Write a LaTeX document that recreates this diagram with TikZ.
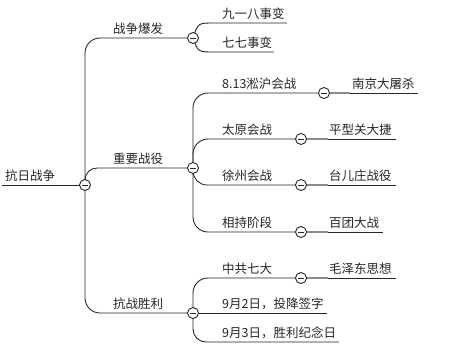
\documentclass[tikz,border=0pt]{standalone}
\usepackage{fontspec}
\newfontfamily\cjk{Noto Sans CJK SC}
\begin{document}
\begin{tikzpicture}[x=1pt,y=-1pt,
  lbl/.style={anchor=base west,inner sep=0pt,font=\cjk\fontsize{12.5}{14}\selectfont,text=black!85},
  link/.style={line width=0.9pt,draw=black!85},
  glink/.style={line width=1.1pt,draw=black!45},
  tog/.style={circle,draw=black!85,fill=white,line width=0.9pt,minimum size=11pt,inner sep=0pt,
    path picture={\draw[line width=0.9pt,black!85] ([xshift=-2.6pt]path picture bounding box.center) -- ([xshift=2.6pt]path picture bounding box.center);}}]
\useasboundingbox (0,0) rectangle (465,349);

% coordinates
\coordinate (r0) at (2,185);
\coordinate (p0) at (85,185);
\coordinate (p1) at (193,38);
\coordinate (p2) at (193,168);
\coordinate (p3) at (193,313);
\coordinate (p21) at (324,93);
\coordinate (p22) at (301,139);
\coordinate (p23) at (301,185);
\coordinate (p24) at (301,232);
\coordinate (p31) at (301,278);

% text nodes
\node[lbl] (t0) at (5,180) {抗日战争};
\node[lbl] (t1) at (113,33) {战争爆发};
\node[lbl] (t2) at (113,163) {重要战役};
\node[lbl] (t3) at (113,308) {抗战胜利};
\node[lbl] (t11) at (222,18) {九一八事变};
\node[lbl] (t12) at (222,47) {七七事变};
\node[lbl] (t21) at (222,88) {8.13淞沪会战};
\node[lbl] (t22) at (222,134) {太原会战};
\node[lbl] (t23) at (222,180) {徐州会战};
\node[lbl] (t24) at (222,227) {相持阶段};
\node[lbl] (t31) at (222,273) {中共七大};
\node[lbl] (t32) at (222,308) {9月2日，投降签字};
\node[lbl] (t33) at (222,337) {9月3日，胜利纪念日};
\node[lbl] (t211) at (352,88) {南京大屠杀};
\node[lbl] (t221) at (329,134) {平型关大捷};
\node[lbl] (t231) at (329,180) {台儿庄战役};
\node[lbl] (t241) at (329,227) {百团大战};
\node[lbl] (t311) at (329,273) {毛泽东思想};

% end coordinates of underlines
\coordinate (e11) at (287,23);
\coordinate (e12) at (274,52);
\coordinate (e32) at (327,313);
\coordinate (e33) at (339,342);
\coordinate (s211) at (350,93);
\coordinate (e211) at (418,93);
\coordinate (s221) at (328,139);
\coordinate (e221) at (396,139);
\coordinate (s231) at (328,185);
\coordinate (e231) at (396,185);
\coordinate (s241) at (328,232);
\coordinate (e241) at (383,232);
\coordinate (s311) at (328,278);
\coordinate (e311) at (396,278);

% root
\draw[link] (r0) -- (p0);
% level 1
\draw[link,rounded corners=15pt] (p0) -- (85,38) -- (p1);
\draw[link,rounded corners=15pt] (p0) -- (85,313) -- (p3);
\draw[link,rounded corners=12pt] (p0) -- (85,168) -- (p2);
% level 2 from p1
\draw[link] (p1) .. controls (198,23) .. (214,23) -- (e11);
\draw[link] (p1) .. controls (198,52) .. (214,52) -- (e12);
% from p2
\draw[link,rounded corners=15pt] (p2) -- (193,93) -- (p21);
\draw[link,rounded corners=15pt] (p2) -- (193,139) -- (p22);
\draw[link,rounded corners=14pt] (p2) -- (193,185) -- (p23);
\draw[link,rounded corners=15pt] (p2) -- (193,232) -- (p24);
% from p3
\draw[link,rounded corners=15pt] (p3) -- (193,278) -- (p31);
\draw[link] (p3) -- (e32);
\draw[link,rounded corners=13pt] (p3) -- (193,342) -- (e33);
% level 3
\draw[glink] (p21) -- (s211);
\draw[link] (s211) -- (e211);
\draw[glink] (p22) -- (s221);
\draw[link] (s221) -- (e221);
\draw[glink] (p23) -- (s231);
\draw[link] (s231) -- (e231);
\draw[glink] (p24) -- (s241);
\draw[link] (s241) -- (e241);
\draw[glink] (p31) -- (s311);
\draw[link] (s311) -- (e311);

% toggles
\node[tog] (c0) at (p0) {};
\node[tog] (c1) at (p1) {};
\node[tog] (c2) at (p2) {};
\node[tog] (c3) at (p3) {};
\node[tog] (c21) at (p21) {};
\node[tog] (c22) at (p22) {};
\node[tog] (c23) at (p23) {};
\node[tog] (c24) at (p24) {};
\node[tog] (c31) at (p31) {};
\end{tikzpicture}
\end{document}
